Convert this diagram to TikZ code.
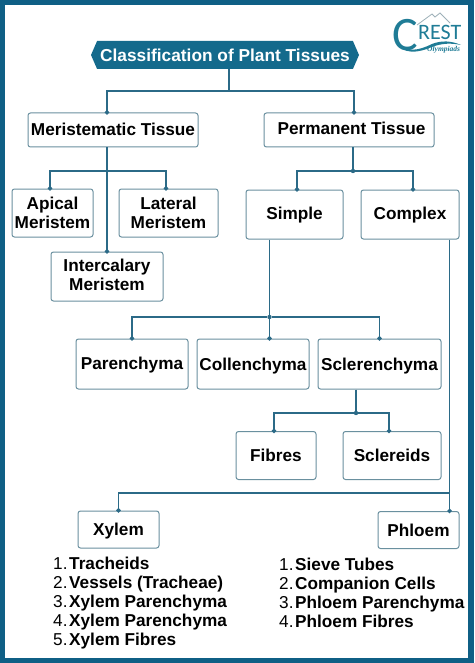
\documentclass[tikz,border=0pt]{standalone}
\usepackage{fontspec}
\setmainfont{Liberation Sans}
\newfontfamily\logofont{Carlito}
\newfontfamily\logoscript{Liberation Serif}
\usepackage{tikz}
\usetikzlibrary{arrows.meta,positioning,shapes.symbols}
\definecolor{Frame}{HTML}{0F5F85}
\definecolor{Banner}{HTML}{146A8C}
\definecolor{Wire}{HTML}{2B6A87}
\definecolor{Edge}{HTML}{6A909F}
\definecolor{Brand}{HTML}{1F7C96}
\definecolor{Peak}{HTML}{9DB0B8}
\newcommand{\rowitem}[2]{\makebox[16pt][l]{#1.}\textbf{#2}}
\tikzset{
  banner/.style={signal,signal to=west and east,signal pointer angle=133,fill=Banner,text=white,minimum width=268pt,minimum height=28pt,inner sep=0pt,font=\fontsize{17.3}{19}\selectfont\bfseries},
  tissue/.style={draw=Edge,fill=white,line width=1pt,rounded corners=2.5pt,align=center,inner sep=0pt,font=\fontsize{17.2}{19}\selectfont\bfseries},
  oneline/.style={text height=12.4pt,text depth=#1},
  oneline/.default=0pt,
  listing/.style={anchor=north west,align=left,inner sep=0pt,font=\fontsize{17.2}{19}\selectfont},
  wire/.style={draw=Wire,line width=1.5pt},
  tipwire/.style={wire,-{Circle[length=4.2pt,width=4.2pt]},shorten >=-2pt},
  joint/.style={circle,fill=Wire,inner sep=0pt,minimum size=4.4pt}
}
\begin{document}
\begin{tikzpicture}[x=1pt,y=-1pt]
  \useasboundingbox (0,0) rectangle (474,663);
  \fill[Frame] (0,0) rectangle (474,663);
  \fill[white] (5,5) rectangle (468,658);

  % logo
  \node[text=Brand,inner sep=0pt,font=\logofont\fontsize{48}{48}\selectfont] (logoc) at (405,35) {C};
  \node[text=Brand,inner sep=0pt,font=\logofont\fontsize{22}{22}\selectfont,anchor=west] (logorest) at (418,32) {REST};
  \node[text=Brand,inner sep=0pt,font=\logoscript\itshape\bfseries\fontsize{7.5}{8}\selectfont,anchor=west] (logoname) at (427,50) {Olympiads};
  \draw[Peak,line width=.8pt] (417,25) -- (432,14) -- (435,17) -- (440,13) -- (450,23);
  \fill[Brand] (396,42) .. controls (405,54) and (420,50) .. (432,44) .. controls (442,40) and (452,41) .. (461,45) .. controls (452,43) and (442,43) .. (432,47) .. controls (418,53) and (403,55) .. cycle;

  \node[banner] (title) at (225,55) {Classification of Plant Tissues};

  \node[tissue,oneline=2pt,minimum width=170pt,minimum height=34pt] (mer) at (113,130) {Meristematic Tissue};
  \node[tissue,oneline=4pt,minimum width=170pt,minimum height=34pt,right=65pt of mer] (perm) {\hspace*{5pt}Permanent Tissue};

  \node[tissue,minimum width=81pt,minimum height=48pt] (apical) at (52.5,213) {Apical\\Meristem};
  \node[tissue,minimum width=99pt,minimum height=48pt,right=25pt of apical] (lateral) {Lateral\\Meristem};
  \node[tissue,oneline=3pt,minimum width=97pt,minimum height=49pt] (simple) at (294.5,214.5) {Simple};
  \node[tissue,oneline=3pt,minimum width=98pt,minimum height=49pt,right=17pt of simple] (complex) {Complex};
  \node[tissue,text depth=4pt,minimum width=112pt,minimum height=49pt] (inter) at (107,276.5) {Intercalary\\Meristem};

  \node[tissue,oneline=1pt,minimum width=112pt,minimum height=50pt] (paren) at (132,364) {Parenchyma};
  \node[tissue,oneline,minimum width=112pt,minimum height=50pt,right=8pt of paren] (coll) {Collenchyma};
  \node[tissue,oneline,minimum width=123pt,minimum height=50pt,right=8pt of coll] (scler) {Sclerenchyma};

  \node[tissue,oneline,minimum width=80pt,minimum height=48pt] (fibres) at (276,455.5) {Fibres};
  \node[tissue,oneline,minimum width=98pt,minimum height=48pt,right=26pt of fibres] (sclereids) {Sclereids};

  \node[tissue,oneline,minimum width=81pt,minimum height=37pt] (xylem) at (118.5,529.5) {Xylem};
  \node[tissue,oneline,minimum width=81pt,minimum height=37pt] (phloem) at (418.5,530) {Phloem};

  \node[listing] (xylemlist) at (53,556.5) {\rowitem{1}{Tracheids}\\\rowitem{2}{Vessels (Tracheae)}\\\rowitem{3}{Xylem Parenchyma}\\\rowitem{4}{Xylem Parenchyma}\\\rowitem{5}{Xylem Fibres}};
  \node[listing] (phloemlist) at (279,558) {\rowitem{1}{Sieve Tubes}\\\rowitem{2}{Companion Cells}\\\rowitem{3}{Phloem Parenchyma}\\\rowitem{4}{Phloem Fibres}};

  \coordinate (titlebus) at (229,91);
  \coordinate (merbus) at (107,171);
  \coordinate (complexbus) at (449.5,493);
  \node[joint] (permjoint) at (353,171) {};
  \node[joint] (simplejoint) at (269.5,317) {};
  \node[joint] (sclerjoint) at (356,413) {};

  \draw[wire] (titlebus |- title.south) -- (titlebus);
  \draw[tipwire] (titlebus) -| ([xshift=-6pt]mer.north);
  \draw[tipwire] (titlebus) -| ([xshift=5pt]perm.north);

  \draw[tipwire] (inter.north |- mer.south) -- (inter.north);
  \draw[tipwire] (merbus) -| ([xshift=-2.5pt]apical.north);
  \draw[tipwire] (merbus) -| ([xshift=-2.5pt]lateral.north);

  \draw[wire] (permjoint |- perm.south) -- (permjoint);
  \draw[tipwire] (permjoint) -| ([xshift=2.5pt]simple.north);
  \draw[tipwire] (permjoint) -| ([xshift=3pt]complex.north);

  \draw[wire] (simplejoint |- simple.south) -- (simplejoint);
  \draw[tipwire] (simplejoint) -| (paren.north);
  \draw[tipwire] (simplejoint) -- (simplejoint |- coll.north);
  \draw[tipwire] (simplejoint) -| (scler.north);

  \draw[wire] (sclerjoint |- scler.south) -- (sclerjoint);
  \draw[tipwire] (sclerjoint) -| ([xshift=-2pt]fibres.north);
  \draw[tipwire] (sclerjoint) -| ([xshift=-3pt]sclereids.north);

  \draw[tipwire] (complexbus |- complex.south) -- (complexbus |- phloem.north);
  \draw[tipwire] (complexbus) -| (xylem.north);
\end{tikzpicture}
\end{document}
